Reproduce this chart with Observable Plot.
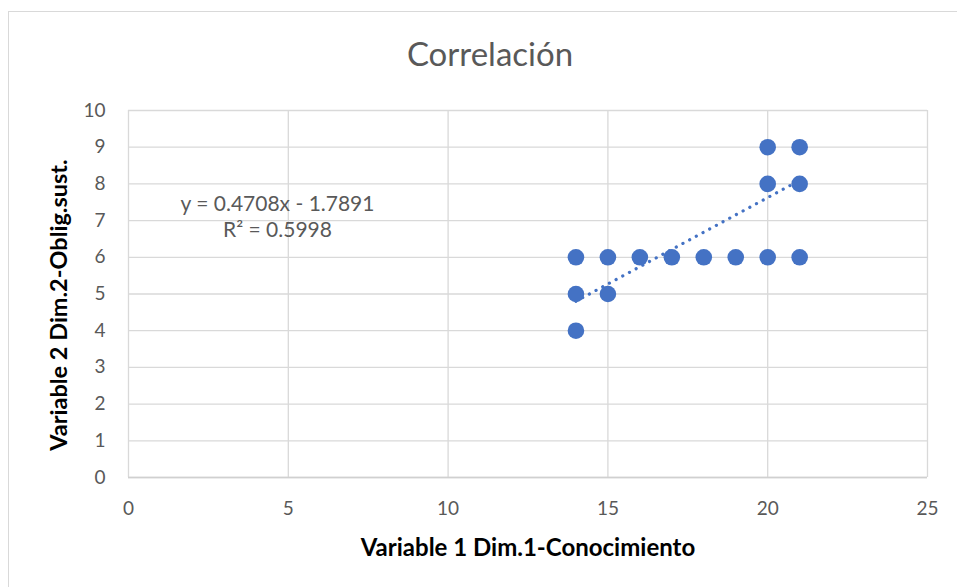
<!DOCTYPE html>
<html>
<head>
<meta charset="utf-8">
<script src="https://cdn.jsdelivr.net/npm/d3@7"></script>
<script src="https://cdn.jsdelivr.net/npm/@observablehq/plot@0.6"></script>
<style>
  html, body { margin: 0; padding: 0; background: #fff; overflow: hidden; }
  #frame { position: absolute; left: 8px; top: 11px; width: 1100px; height: 700px; border-top: 1.5px solid #d9d9d9; border-left: 1.5px solid #d9d9d9; }
  #chart { position: absolute; left: 0; top: 0; }
</style>
</head>
<body>
<div id="frame"></div>
<div id="chart"></div>
<script>
const xValues = [14, 14, 14, 15, 15, 16, 17, 18, 19, 20, 20, 20, 21, 21, 21];
const yValues = [6, 5, 4, 6, 5, 6, 6, 6, 6, 6, 8, 9, 9, 8, 6];
const xTicks = [0, 5, 10, 15, 20, 25];
const yTicks = [0, 1, 2, 3, 4, 5, 6, 7, 8, 9, 10];
const slope = 0.4708;
const intercept = -1.7891;
const rSquared = 0.5998;
const titleText = "Correlación";
const xLabel = "Variable 1 Dim.1-Conocimiento";
const yLabel = "Variable 2 Dim.2-Oblig.sust.";

const points = xValues.map((x, i) => ({x, y: yValues[i]}));
const xMin = d3.min(xValues), xMax = d3.max(xValues);
const trend = [xMin, xMax].map(x => ({x, y: slope * x + intercept}));
const eqLine1 = `y = ${slope}x - ${Math.abs(intercept)}`;
const eqLine2 = `R² = ${rSquared}`;

const font = "Lato, 'Open Sans', sans-serif";
const blue = "#4472C4";
const grey = "#595959";

const chart = Plot.plot({
  width: 957,
  height: 587,
  marginLeft: 128,
  marginRight: 30,
  marginTop: 110,
  marginBottom: 110,
  style: {fontFamily: font, background: "transparent", overflow: "visible"},
  x: {domain: [0, 25], ticks: xTicks},
  y: {domain: [0, 10], ticks: yTicks},
  marks: [
    Plot.gridX(xTicks, {stroke: "#d9d9d9", strokeOpacity: 1, strokeWidth: 1.3}),
    Plot.gridY(yTicks, {stroke: "#d9d9d9", strokeOpacity: 1, strokeWidth: 1.3}),
    Plot.ruleY([0], {stroke: "#d0d0d0", strokeWidth: 1.5}),
    Plot.axisX(xTicks, {tickSize: 0, tickPadding: 24, fontSize: 19, fill: grey, label: null}),
    Plot.axisY(yTicks, {tickSize: 0, tickPadding: 23, fontSize: 19, fill: grey, label: null}),
    Plot.line(trend, {x: "x", y: "y", stroke: blue, strokeWidth: 3.2, strokeDasharray: "0.1 7.5", strokeLinecap: "round"}),
    Plot.dot(points, {x: "x", y: "y", r: 8.3, fill: blue, stroke: "none"}),
    Plot.text([titleText], {frameAnchor: "top", lineAnchor: "middle", dx: -38, dy: -55, fontSize: 33, fill: grey, text: d => d}),
    Plot.text([xLabel], {frameAnchor: "bottom", lineAnchor: "middle", dy: 71, fontSize: 24, fontWeight: "bold", fill: "#000", text: d => d}),
    Plot.text([yLabel], {frameAnchor: "left", textAnchor: "middle", lineAnchor: "middle", dx: -69, dy: 11, rotate: -90, fontSize: 23.5, fontWeight: "bold", fill: "#000", text: d => d}),
    Plot.text([eqLine1], {frameAnchor: "top-left", textAnchor: "middle", lineAnchor: "middle", dx: 149, dy: 94, fontSize: 21, fill: grey, text: d => d}),
    Plot.text([eqLine2], {frameAnchor: "top-left", textAnchor: "middle", lineAnchor: "middle", dx: 149, dy: 120, fontSize: 21, fill: grey, text: d => d})
  ]
});
document.getElementById("chart").appendChild(chart);
</script>
</body>
</html>
